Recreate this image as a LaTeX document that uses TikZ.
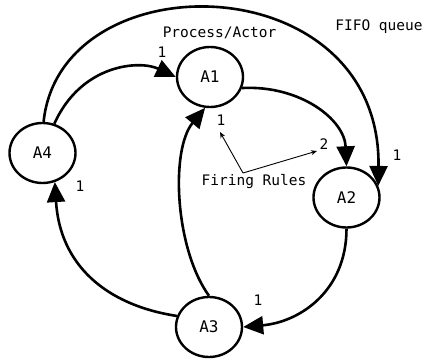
\documentclass[tikz,border=0pt]{standalone}
\usepackage{fontspec}
\newfontfamily\dmono{DejaVu Sans Mono}
\usetikzlibrary{arrows.meta,shapes.geometric}
\begin{document}
\begin{tikzpicture}[x=1pt,y=-1pt,
  actor/.style={ellipse,draw,line width=2.4pt,minimum width=66pt,minimum height=60pt,inner sep=0pt,font=\dmono\fontsize{16}{19}\selectfont},
  flow/.style={line width=2.6pt,-{Triangle[length=20pt,width=18pt]}},
  lab/.style={font=\dmono\fontsize{14.5}{17}\selectfont,inner sep=0pt},
  thin/.style={line width=0.9pt,-{Stealth[length=6pt,width=5pt]}}]
\useasboundingbox (0,0) rectangle (424,361);
\node[actor] (A1) at (210,77) {A1};
\node[actor] (A2) at (346.5,197.5) {A2};
\node[actor] (A3) at (209,327) {A3};
\node[actor] (A4) at (42.5,153) {A4};
\draw[flow] (A4.68) .. controls +(27,-60) and +(-36,-17) .. (A1.180);
\draw[flow] (A4.88) .. controls +(17,-163) and +(3,-222) .. (A2.20);
\draw[flow] (A1.-19) .. controls +(58,-3) and +(-2,-47) .. (A2.90);
\draw[flow] (A2.270) .. controls +(0,62) and +(57,-5) .. (A3.0);
\draw[flow] (A3.161) .. controls +(-72,-11) and +(5,82) .. (A4.293);
\draw[flow] (A3.90) .. controls +(-34,-47) and +(-35,42) .. (A1.261);
\node[lab] (pa) at (219.5,33) {Process/Actor};
\node[lab] (fq) at (379,27) {FIFO queue};
\node[lab] (l41) at (162,52) {1};
\node[lab] (l31) at (221,120) {1};
\node[lab] (l12) at (324,144) {2};
\node[lab] (l42) at (397,155) {1};
\node[lab] (fr) at (254,182) {Firing Rules};
\node[lab] (l34) at (80,186) {1};
\node[lab] (l23) at (258,300) {1};
\coordinate (frj) at (243,173);
\draw[thin] (frj) -- (220,132) coordinate (t1);
\draw[thin] (frj) -- (317,151) coordinate (t2);
\end{tikzpicture}
\end{document}
